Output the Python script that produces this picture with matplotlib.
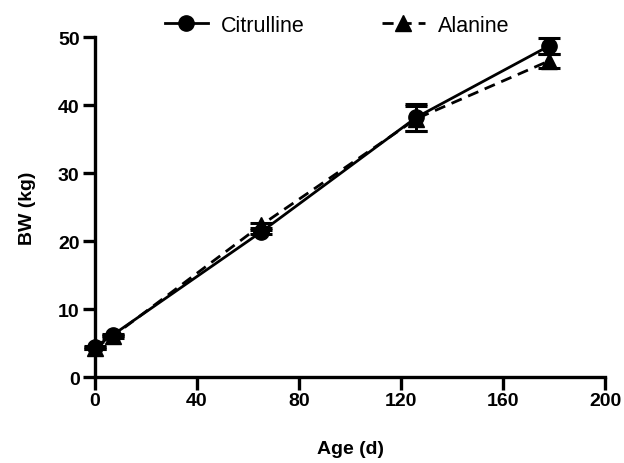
import numpy as np
import matplotlib.pyplot as plt
from matplotlib.lines import Line2D

# Body weight vs age
age_cit = [0, 7, 65, 126, 178]
bw_cit = [4.4, 6.2, 21.3, 38.2, 48.7]
err_cit = [0.2, 0.2, 0.3, 2.0, 1.2]

age_ala = [0, 7, 65, 126, 178]
bw_ala = [4.3, 6.0, 22.3, 38.0, 46.5]
err_ala = [0.2, 0.2, 0.3, 1.8, 1.0]

x_ticks = [0, 40, 80, 120, 160, 200]
y_ticks = [0, 10, 20, 30, 40, 50]

plt.rcParams['font.family'] = ['Liberation Sans', 'DejaVu Sans']

fig = plt.figure(figsize=(6.24, 4.64), dpi=100)
ax = fig.add_axes([0.152, 0.185, 0.818, 0.733])

ax.errorbar(age_cit, bw_cit, yerr=err_cit, color='black', linestyle='-',
            linewidth=2, marker='o', markersize=11, capsize=8, capthick=2.2,
            elinewidth=2, clip_on=False, zorder=3)
ax.errorbar(age_ala, bw_ala, yerr=err_ala, color='black', linestyle=(0, (4, 2.5)),
            linewidth=2, marker='^', markersize=11, capsize=8, capthick=2.2,
            elinewidth=2, clip_on=False, zorder=3)

ax.set_xlim(0, 200)
ax.set_ylim(0, 50)
ax.set_xticks(x_ticks)
ax.set_yticks(y_ticks)
ax.spines['top'].set_visible(False)
ax.spines['right'].set_visible(False)
for s in ('left', 'bottom'):
    ax.spines[s].set_linewidth(2.4)
ax.tick_params(width=2.4, length=9, labelsize=14, pad=2)
for lab in ax.get_xticklabels() + ax.get_yticklabels():
    lab.set_fontweight('bold')

ax.set_xlabel('Age (d)', fontsize=14, fontweight='bold', labelpad=22)
ax.set_ylabel('BW (kg)', fontsize=14, fontweight='bold', labelpad=16)

handles = [
    Line2D([], [], color='black', linestyle='-', linewidth=2, marker='o', markersize=11),
    Line2D([], [], color='black', linestyle=(0, (4, 2.5)), linewidth=2, marker='^', markersize=11),
]
fig.legend(handles, ['Citrulline', 'Alanine'], loc='center', bbox_to_anchor=(0.54, 0.943),
           ncol=2, frameon=False, fontsize=15.5, handlelength=2.0, columnspacing=3.6,
           handletextpad=0.6)

fig.savefig('out.png', dpi=100)
